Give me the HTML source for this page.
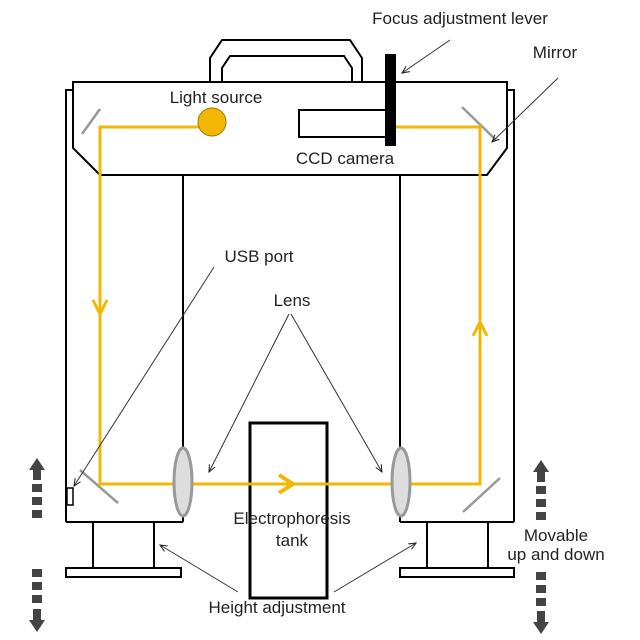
<!DOCTYPE html>
<html><head><style>html,body{margin:0;padding:0;background:#fff}svg{display:block}</style></head>
<body>
<svg width="640" height="640" viewBox="0 0 640 640" xmlns="http://www.w3.org/2000/svg" font-family="Liberation Sans, sans-serif" font-size="17" fill="#222">
<defs>
<marker id="ah" viewBox="0 0 10 10" refX="9" refY="5" markerWidth="8" markerHeight="8" orient="auto"><path d="M0,1 L9,5 L0,9" fill="none" stroke="#222" stroke-width="1.3"/></marker>
</defs>
<g fill="none" stroke="#000" stroke-width="2">
<path d="M210,82 V58 L222,40 H350 L362,58 V82"/>
<path d="M222,82 V68 L230,56 H344 L352,68 V82"/>
<path d="M66,522 V90 H73"/>
<path d="M514,522 V90 H507"/>
<path d="M73,82 H507 V148 L487,175 H100 L73,148 Z"/>
<line x1="183" y1="175" x2="183" y2="522"/>
<line x1="66" y1="522" x2="183" y2="522"/>
<line x1="400" y1="175" x2="400" y2="522"/>
<line x1="400" y1="522" x2="514" y2="522"/>
<rect x="93" y="522" width="61" height="46"/>
<rect x="66" y="568" width="115" height="9"/>
<rect x="427" y="522" width="61" height="46"/>
<rect x="400" y="568" width="114" height="9"/>
<rect x="67" y="488" width="6" height="17" stroke-width="1.5"/>
<rect x="250" y="423" width="77" height="175" stroke-width="3"/>
<rect x="299" y="110" width="87" height="27"/>
</g>
<rect x="385" y="54" width="11" height="92" fill="#000"/>
<g stroke="#999" stroke-width="2.5">
<line x1="82" y1="134" x2="100" y2="109"/>
<line x1="462" y1="107" x2="496" y2="140"/>
<line x1="80" y1="470" x2="118" y2="503"/>
<line x1="463" y1="512" x2="500" y2="478"/>
</g>
<g fill="none" stroke="#F2B705" stroke-width="3">
<path d="M205,127 H100 V484 H480 V127 H396"/>
<path d="M93,300 L100,314 L107,300"/>
<path d="M473,336 L480,322 L487,336"/>
<path d="M279,475 L293,484 L279,493" stroke-width="4"/>
</g>
<circle cx="212" cy="122" r="14" fill="#F2B705" stroke="#a07800" stroke-width="1"/>
<ellipse cx="183" cy="482" rx="9" ry="34" fill="#ddd" stroke="#999" stroke-width="3"/>
<ellipse cx="401" cy="482" rx="9" ry="34" fill="#ddd" stroke="#999" stroke-width="3"/>
<g stroke="#333" stroke-width="1" marker-end="url(#ah)">
<line x1="450" y1="40" x2="402" y2="73"/>
<line x1="558" y1="78" x2="492" y2="142"/>
<line x1="214" y1="267" x2="74" y2="486"/>
<line x1="289" y1="314" x2="209" y2="472"/>
<line x1="291" y1="314" x2="382" y2="472"/>
<line x1="238" y1="592" x2="160" y2="545"/>
<line x1="334" y1="592" x2="416" y2="543"/>
</g>
<g fill="#444">
<path d="M37,458 L29,470 H33 V480 H41 V470 H45 Z"/>
<rect x="32" y="484" width="10" height="8"/><rect x="32" y="497" width="10" height="8"/><rect x="32" y="510" width="10" height="8"/>
<rect x="32" y="569" width="10" height="8"/><rect x="32" y="582" width="10" height="8"/><rect x="32" y="595" width="10" height="8"/>
<path d="M37,632 L29,620 H33 V609 H41 V620 H45 Z"/>
<path d="M541,460 L533,472 H537 V482 H545 V472 H549 Z"/>
<rect x="536" y="486" width="10" height="8"/><rect x="536" y="499" width="10" height="8"/><rect x="536" y="512" width="10" height="8"/>
<rect x="536" y="572" width="10" height="8"/><rect x="536" y="585" width="10" height="8"/><rect x="536" y="598" width="10" height="8"/>
<path d="M541,634 L533,622 H537 V611 H545 V622 H549 Z"/>
</g>
<g text-anchor="middle">
<text x="460" y="24">Focus adjustment lever</text>
<text x="555" y="58">Mirror</text>
<text x="216" y="103">Light source</text>
<text x="345" y="164">CCD camera</text>
<text x="259" y="262">USB port</text>
<text x="292" y="306">Lens</text>
<text x="292" y="524">Electrophoresis</text>
<text x="292" y="546">tank</text>
<text x="556" y="541">Movable</text>
<text x="556" y="560">up and down</text>
<text x="277" y="613">Height adjustment</text>
</g>
</svg>
</body></html>
